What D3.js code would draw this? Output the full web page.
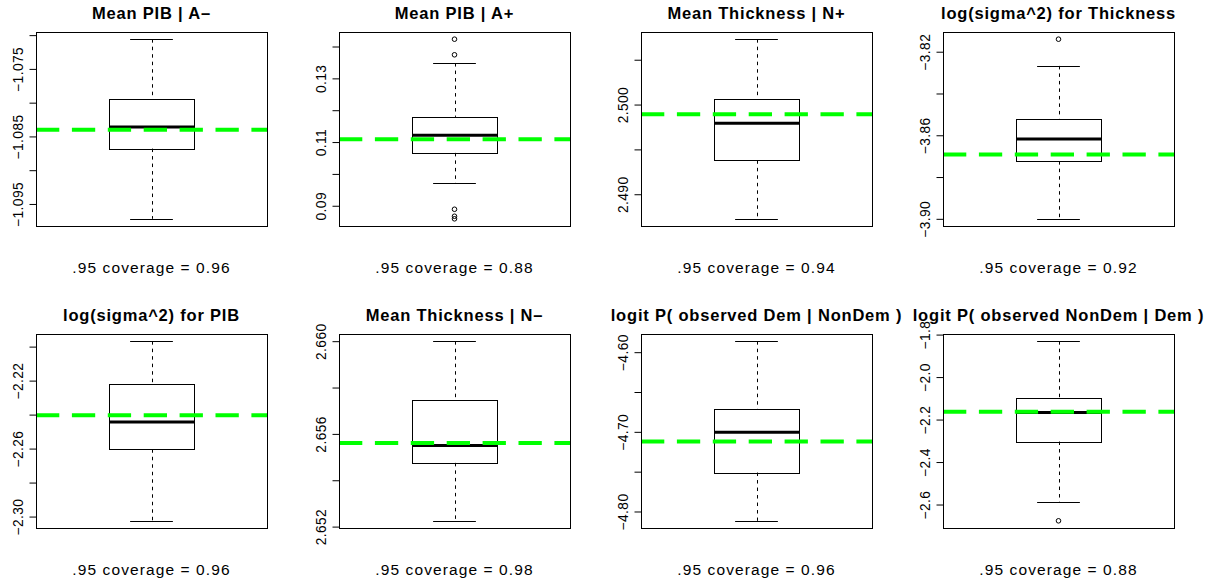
<!DOCTYPE html>
<html>
<head>
<meta charset="utf-8">
<script src="https://cdn.jsdelivr.net/npm/d3@7"></script>
<style>
  html, body { margin: 0; padding: 0; background: #fff; }
  svg { display: block; }
  text { font-family: "Liberation Sans", Arial, Helvetica, sans-serif; fill: #000; }
</style>
</head>
<body>
<svg id="chart" width="1215" height="585"></svg>
<script>
// ---- data ----
const titles = [
  "Mean PIB | A\u2013",
  "Mean PIB | A+",
  "Mean Thickness | N+",
  "log(sigma^2) for Thickness",
  "log(sigma^2) for PIB",
  "Mean Thickness | N\u2013",
  "logit P( observed Dem | NonDem )",
  "logit P( observed NonDem | Dem )"
];
const whiskerLow  = [-1.0972, 0.0970, 2.48726, -3.9000, -2.3025, 2.65225, -4.8117, -2.5873];
const q1          = [-1.0868, 0.1066, 2.49378, -3.8724, -2.2604, 2.65475, -4.7511, -2.3035];
const medians     = [-1.0836, 0.1121, 2.49792, -3.8618, -2.2443, 2.65550, -4.7004, -2.1670];
const q3          = [-1.0795, 0.1179, 2.50062, -3.8520, -2.2219, 2.65745, -4.6711, -2.0965];
const whiskerHigh = [-1.0706, 0.1348, 2.50729, -3.8268, -2.1968, 2.66000, -4.5862, -1.8311];
const outliers = [
  [],
  [0.1423, 0.1374, 0.0889, 0.0867, 0.0859],
  [],
  [-3.8140],
  [],
  [],
  [],
  [-2.6767]
];
const trueValues = [-1.0840, 0.1109, 2.49892, -3.8692, -2.2404, 2.65561, -4.7122, -2.1638];
const coverage   = [0.96, 0.88, 0.94, 0.92, 0.96, 0.98, 0.96, 0.88];
const tickValues = [
  [-1.070, -1.075, -1.080, -1.085, -1.090, -1.095],
  [0.09, 0.10, 0.11, 0.12, 0.13, 0.14],
  [2.490, 2.495, 2.500, 2.505],
  [-3.82, -3.84, -3.86, -3.88, -3.90],
  [-2.20, -2.22, -2.24, -2.26, -2.28, -2.30],
  [2.652, 2.654, 2.656, 2.658, 2.660],
  [-4.60, -4.65, -4.70, -4.75, -4.80],
  [-1.8, -2.0, -2.2, -2.4, -2.6]
];
const tickLabels = [
  ["", "\u22121.075", "", "\u22121.085", "", "\u22121.095"],
  ["0.09", "", "0.11", "", "0.13", ""],
  ["2.490", "", "2.500", ""],
  ["\u22123.82", "", "\u22123.86", "", "\u22123.90"],
  ["", "\u22122.22", "", "\u22122.26", "", "\u22122.30"],
  ["2.652", "", "2.656", "", "2.660"],
  ["\u22124.60", "", "\u22124.70", "", "\u22124.80"],
  ["\u22121.8", "\u22122.0", "\u22122.2", "\u22122.4", "\u22122.6"]
];

// ---- layout ----
const svg = d3.select("#chart");
const colLeft = [36, 339, 641, 943];
const rowTop = [32, 334];
const plotW = 231, plotH = 194;

titles.forEach((title, k) => {
  const col = k % 4, row = Math.floor(k / 4);
  const left = colLeft[col], top = rowTop[row];
  const g = svg.append("g");

  const all = [whiskerLow[k], whiskerHigh[k], ...outliers[k]];
  const lo = d3.min(all), hi = d3.max(all);
  const pad = (hi - lo) * 0.04;
  const y = d3.scaleLinear().domain([lo - pad, hi + pad]).range([top + plotH, top]);
  const x = d3.scaleLinear().domain([0.46, 1.54]).range([left, left + plotW]);

  const clipId = "clip" + k;
  svg.append("clipPath").attr("id", clipId)
    .append("rect").attr("x", left).attr("y", top).attr("width", plotW).attr("height", plotH);

  const cx = Math.round(x(1)) + 0.5;
  // whiskers (dashed)
  g.append("line").attr("x1", cx).attr("x2", cx)
    .attr("y1", y(whiskerHigh[k])).attr("y2", y(q3[k]))
    .attr("stroke", "#000").attr("stroke-width", 1).attr("stroke-dasharray", "3.5,4");
  g.append("line").attr("x1", cx).attr("x2", cx)
    .attr("y1", y(q1[k])).attr("y2", y(whiskerLow[k]))
    .attr("stroke", "#000").attr("stroke-width", 1).attr("stroke-dasharray", "3.5,4");
  // staples
  [whiskerHigh[k], whiskerLow[k]].forEach(v => {
    g.append("line").attr("x1", x(0.9)).attr("x2", x(1.1))
      .attr("y1", Math.round(y(v)) + 0.5).attr("y2", Math.round(y(v)) + 0.5)
      .attr("stroke", "#000").attr("stroke-width", 1);
  });
  // box
  const bx0 = Math.round(x(0.8)) + 0.5, bx1 = Math.round(x(1.2)) + 0.5;
  const by0 = Math.round(y(q3[k])) + 0.5, by1 = Math.round(y(q1[k])) + 0.5;
  g.append("rect").attr("x", bx0).attr("y", by0)
    .attr("width", bx1 - bx0).attr("height", by1 - by0)
    .attr("fill", "none").attr("stroke", "#000").attr("stroke-width", 1);
  // median
  g.append("line").attr("x1", bx0).attr("x2", bx1)
    .attr("y1", y(medians[k])).attr("y2", y(medians[k]))
    .attr("stroke", "#000").attr("stroke-width", 3);
  // outliers
  g.selectAll("circle.out").data(outliers[k]).enter().append("circle")
    .attr("cx", x(1)).attr("cy", d => y(d)).attr("r", 2.3)
    .attr("fill", "none").attr("stroke", "#000").attr("stroke-width", 1);

  // reference (true value) line
  g.append("line").attr("clip-path", `url(#${clipId})`)
    .attr("x1", left).attr("x2", left + plotW)
    .attr("y1", y(trueValues[k])).attr("y2", y(trueValues[k]))
    .attr("stroke", "#00ff00").attr("stroke-width", 4)
    .attr("stroke-dasharray", "23.3,12.6");

  // frame
  g.append("rect").attr("x", left + 0.5).attr("y", top + 0.5)
    .attr("width", plotW).attr("height", plotH)
    .attr("fill", "none").attr("stroke", "#000").attr("stroke-width", 1);

  // y axis
  const axis = d3.axisLeft(y)
    .tickValues(tickValues[k])
    .tickFormat((d, i) => tickLabels[k][i])
    .tickSize(7).tickSizeOuter(0);
  const ag = g.append("g").attr("transform", `translate(${left + 0.5},0)`).call(axis);
  ag.select(".domain").remove();
  ag.selectAll(".tick line").attr("stroke", "#000");
  ag.selectAll(".tick text")
    .attr("transform", "rotate(-90)")
    .attr("x", 0).attr("y", -13.2).attr("dy", 0)
    .attr("text-anchor", "middle")
    .style("font-family", '"Liberation Sans", Arial, Helvetica, sans-serif')
    .style("font-size", "13.8px")
    .style("letter-spacing", "0.4px")
    .attr("fill", "#000");

  // title
  g.append("text")
    .attr("x", left + plotW / 2).attr("y", top - 13)
    .attr("text-anchor", "middle")
    .style("font-size", "16.5px").style("font-weight", "bold")
    .style("letter-spacing", "0.8px")
    .text(title);

  // coverage text
  g.append("text")
    .attr("x", left + plotW / 2).attr("y", top + plotH + 46.5)
    .attr("text-anchor", "middle")
    .style("font-size", "15.5px")
    .style("letter-spacing", "1.1px")
    .text(".95 coverage = " + coverage[k].toFixed(2));
});
</script>
</body>
</html>
